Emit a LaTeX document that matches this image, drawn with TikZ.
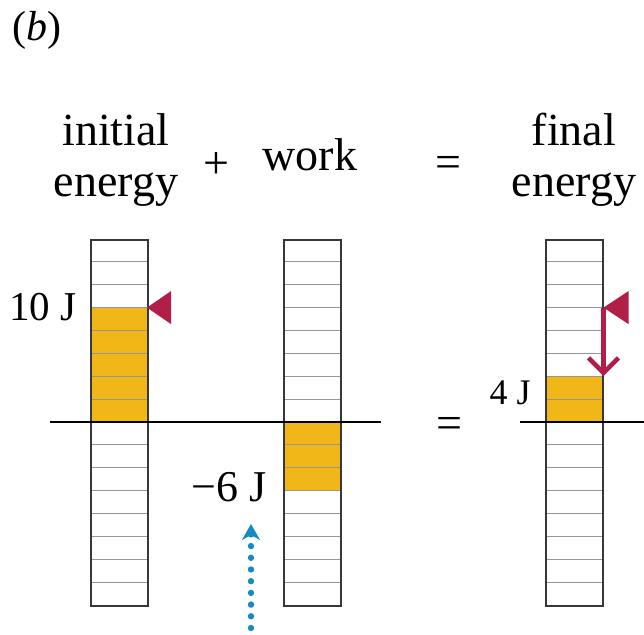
\documentclass[tikz,border=0pt]{standalone}
\usepackage{fontspec}
\setmainfont{Liberation Serif}
\usetikzlibrary{arrows.meta}
\definecolor{energyGold}{RGB}{241,183,25}
\definecolor{flagRed}{RGB}{177,31,72}
\definecolor{workBlue}{RGB}{22,139,194}
\definecolor{barGray}{RGB}{55,55,55}
\definecolor{cellGray}{RGB}{150,150,150}
\tikzset{
  bar/.style={draw=barGray, line width=1pt, minimum width=28.5pt, minimum height=183pt, inner sep=0pt, anchor=north west},
  cell/.style={draw=cellGray, line width=0.6pt},
  level/.style={fill=energyGold},
  axis/.style={draw=black, line width=1.3pt},
  head/.style={align=center, inner sep=0pt, anchor=base, font=\fontsize{23}{25.5}\selectfont},
  sym/.style={inner sep=0pt, font=\fontsize{23}{25.5}\selectfont},
  joule/.style={inner sep=0pt, anchor=base east},
  flag/.style={fill=flagRed},
  drop/.style={-{Straight Barb[length=7.5pt,width=15pt]}, draw=flagRed, line width=2.3pt},
  workarrow/.style={-{Stealth[length=8pt,width=9pt,inset=2.5pt]}, draw=workBlue, line width=3.2pt, line cap=round, dash pattern=on 0pt off 5.85pt}
}
\newcommand{\cellh}{22.875}

\begin{document}
\begin{tikzpicture}[x=0.5pt,y=-0.5pt]
  \useasboundingbox (0,0) rectangle (644,635);

  % Energy bars: 16 cells, 8 above and 8 below the zero line
  \foreach \name/\xl/\ya/\yb in {ini/90/3/8, wrk/283/8/11, fin/545/6/8} {
    \fill[level] (\xl,239+\ya*\cellh) rectangle (\xl+57,239+\yb*\cellh);
    \foreach \k in {1,...,15}
      \draw[cell] (\xl,239+\k*\cellh) -- ++(57,0);
    \node[bar] (\name) at (\xl,239) {};
  }

  % Zero lines
  \draw[axis] (50,422) -- (381,422);
  \draw[axis] (520,422) -- (644,422);

  % Headings (base = last line)
  \node[inner sep=0pt, anchor=base west, font=\fontsize{21}{24}\selectfont] (panel) at (12,41) {(\textit{b})};
  \node[head] (initial) at (116,197) {initial\\energy};
  \node[sym] (plus) at (216,166) {+};
  \node[head] (work) at (310,171) {work};
  \node[sym] (eqtop) at (448,167) {=};
  \node[head] (final) at (574,197) {final\\energy};

  % Energy values
  \node[joule, font=\fontsize{20.5}{24}\selectfont] (tenJ) at (77,321) {10 J};
  \node[joule, font=\fontsize{22}{26}\selectfont] (sixJ) at (267,502) {−6 J};
  \node[joule, font=\fontsize{18}{22}\selectfont] (fourJ) at (531,405) {4 J};
  \node[sym] (eqbot) at (449,428) {=};

  % Level flags and arrows
  \coordinate (iniFlag) at (147,307.6);
  \coordinate (finFlag) at (603.5,307.6);
  \coordinate (finLevel) at (603.5,376.25);
  \coordinate (workFoot) at (251,628);
  \coordinate (workTip) at (251,524);
  \fill[flag] (iniFlag) -- ++(24,-16.5) -- ++(0,33) -- cycle;
  \fill[flag] (finFlag) -- ++(25,-16.5) -- ++(0,33) -- cycle;
  \draw[drop] (finFlag) -- (finLevel);
  \draw[workarrow] (workFoot) -- (workTip);
\end{tikzpicture}
\end{document}
